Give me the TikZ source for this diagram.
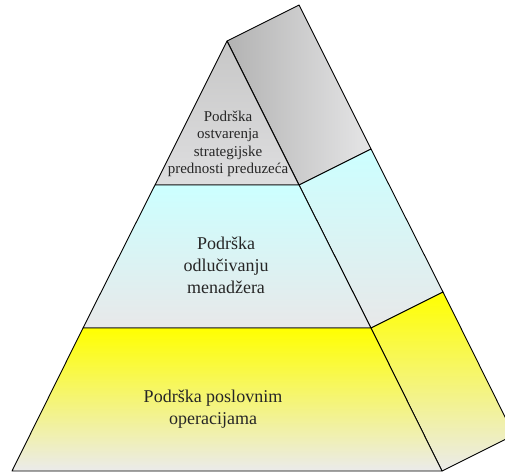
\documentclass[tikz,border=0pt]{standalone}
\usepackage{fontspec}
\setmainfont{Liberation Serif}
\usetikzlibrary{calc}
\begin{document}
\begin{tikzpicture}[x=1pt,y=-1pt,line width=0.9pt,line join=round,
  face/.style={draw=black},
  lbl/.style={align=center,inner sep=0pt,text=black!85}]
\useasboundingbox (0,0) rectangle (505,472);
\clip (0,0) rectangle (505,472);
\coordinate (A) at (227,41);
\coordinate (TL) at (155,185);
\coordinate (TR) at (299,185);
\coordinate (ML) at (83,328);
\coordinate (MR) at (371,328);
\coordinate (BL) at (12,471);
\coordinate (BR) at (442,471);
% side faces
\shade[left color=black!30,right color=blue!4!black!10] (A) -- ++(72,-36) -- ($(TR)+(72,-36)$) -- (TR) -- cycle;
\draw[face] (A) -- ++(72,-36) -- ($(TR)+(72,-36)$) -- (TR) -- cycle;
\shade[top color=cyan!20,bottom color=blue!4!black!9] (TR) -- ++(72,-36) -- ($(MR)+(72,-36)$) -- (MR) -- cycle;
\draw[face] (TR) -- ++(72,-36) -- ($(MR)+(72,-36)$) -- (MR) -- cycle;
\shade[top color=yellow,bottom color=blue!4!black!8] (MR) -- ++(72,-36) -- ($(BR)+(72,-36)$) -- (BR) -- cycle;
\draw[face] (MR) -- ++(72,-36) -- ($(BR)+(72,-36)$) -- (BR) -- cycle;
% front faces
\shade[top color=black!22,bottom color=blue!4!black!13] (A) -- (TR) -- (TL) -- cycle;
\draw[face] (A) -- (TR) -- (TL) -- cycle;
\shade[top color=cyan!20,bottom color=blue!4!black!9] (TL) -- (TR) -- (MR) -- (ML) -- cycle;
\draw[face] (TL) -- (TR) -- (MR) -- (ML) -- cycle;
\shade[top color=yellow,bottom color=blue!4!black!8] (ML) -- (MR) -- (BR) -- (BL) -- cycle;
\draw[face] (ML) -- (MR) -- (BR) -- (BL) -- cycle;
% labels
\node[lbl,font=\fontsize{15}{17.5}\selectfont] (t1) at (228,144) {Podrška\\ostvarenja\\strategijske\\prednosti preduzeća};
\node[lbl,font=\fontsize{18}{22}\selectfont] (t2) at (226,265) {Podrška\\odlučivanju\\menadžera};
\node[lbl,font=\fontsize{18}{22}\selectfont] (t3) at (213,409) {Podrška poslovnim\\operacijama};
\end{tikzpicture}
\end{document}
